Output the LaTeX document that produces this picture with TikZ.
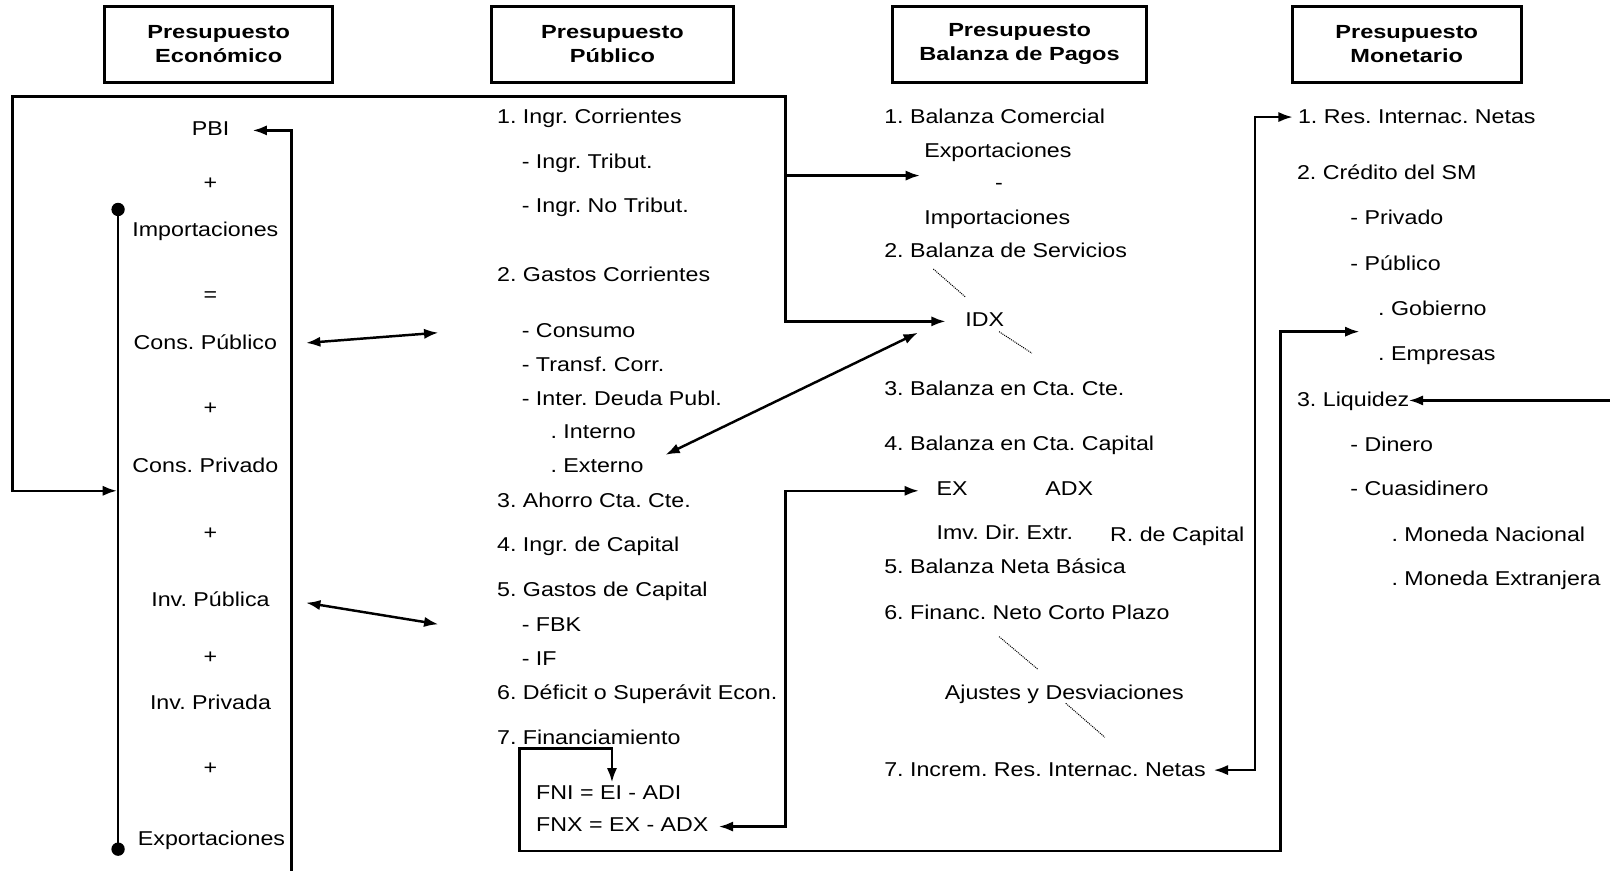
\documentclass[tikz,border=0pt]{standalone}
\usepackage{fontspec}
\setmainfont{Liberation Sans}[FakeStretch=1.16]
\newfontfamily\hbf{Liberation Sans}[FakeStretch=1.24]
\usetikzlibrary{arrows.meta}
\frenchspacing
\begin{document}
\frenchspacing
\begin{tikzpicture}[x=1pt,y=-1pt,
  tx/.style={anchor=base west,inner sep=0pt,font=\fontsize{19.5}{23}\selectfont\frenchspacing},
  tc/.style={anchor=base,inner sep=0pt,font=\fontsize{19.5}{23}\selectfont\frenchspacing},
  hdr/.style={draw,line width=2.8pt,inner sep=0pt,minimum height=74pt,align=center,
    font=\hbf\bfseries\fontsize{18.5}{23}\selectfont},
  conn/.style={line width=2.4pt,>={Latex[length=14pt,width=10pt]}},
  dots/.style={line width=1pt,dash pattern=on 1pt off 1pt}]
\useasboundingbox (0,0) rectangle (1568,848);

% headers
\node[hdr,minimum width=222pt] (h1) at (213,43) {Presupuesto\\Económico};
\node[hdr,minimum width=236pt] (h2) at (596.5,43) {Presupuesto\\Público};
\node[hdr,minimum width=248pt] (h3) at (993,43) {Presupuesto\\Balanza de Pagos};
\node[hdr,minimum width=223pt] (h4) at (1370,43) {Presupuesto\\Monetario};

% column 1
\node[tc] (pbi) at (205,132) {PBI};
\node[tc] (pl1) at (205,185) {+};
\node[tc] (imp) at (200,230) {Importaciones};
\node[tc] (eq) at (205,294) {=};
\node[tc] (cpu) at (200,340) {Cons. Público};
\node[tc] (pl2) at (205,404) {+};
\node[tc] (cpr) at (200,460) {Cons. Privado};
\node[tc] (pl3) at (205,525) {+};
\node[tc] (ipu) at (205,591) {Inv. Pública};
\node[tc] (pl4) at (205,646) {+};
\node[tc] (ipr) at (205,691) {Inv. Privada};
\node[tc] (pl5) at (205,754) {+};
\node[tc] (expo) at (206,823) {Exportaciones};

% column 2
\node[tx] (a1) at (484,120) {1. Ingr. Corrientes};
\node[tx] (a2) at (508,164) {- Ingr. Tribut.};
\node[tx] (a3) at (508,207) {- Ingr. No Tribut.};
\node[tx] (a4) at (484,274) {2. Gastos Corrientes};
\node[tx] (a5) at (508,329) {- Consumo};
\node[tx] (a6) at (508,362) {- Transf. Corr.};
\node[tx] (a7) at (508,395) {- Inter. Deuda Publ.};
\node[tx] (a8) at (536,427) {. Interno};
\node[tx] (a9) at (536,460) {. Externo};
\node[tx] (a10) at (484,494) {3. Ahorro Cta. Cte.};
\node[tx] (a11) at (484,537) {4. Ingr. de Capital};
\node[tx] (a12) at (484,581) {5. Gastos de Capital};
\node[tx] (a13) at (508,615) {- FBK};
\node[tx] (a14) at (508,648) {- IF};
\node[tx] (a15) at (484,681) {6. Déficit o Superávit Econ.};
\node[tx] (a16) at (484,725) {7. Financiamiento};
\node[tx] (fni) at (522,779) {FNI = EI - ADI};
\node[tx] (fnx) at (522,810) {FNX = EX - ADX};

% column 3
\node[tx] (b1) at (861,120) {1. Balanza Comercial};
\node[tx] (b2) at (900,153) {Exportaciones};
\node[tc] (b3) at (973,185) {-};
\node[tx] (b4) at (900,219) {Importaciones};
\node[tx] (b5) at (861,251) {2. Balanza de Servicios};
\node[tx] (idx) at (940,318) {IDX};
\node[tx] (b6) at (861,385) {3. Balanza en Cta. Cte.};
\node[tx] (b7) at (861,439) {4. Balanza en Cta. Capital};
\node[tx] (ex) at (912,483) {EX};
\node[tx] (adx) at (1018,483) {ADX};
\node[tx] (imv) at (912,525) {Imv. Dir. Extr.};
\node[tx] (rcap) at (1081,527) {R. de Capital};
\node[tx] (b8) at (861,559) {5. Balanza Neta Básica};
\node[tx] (b9) at (861,603) {6. Financ. Neto Corto Plazo};
\node[tx] (ajd) at (920,681) {Ajustes y Desviaciones};
\node[tx] (b10) at (861,756) {7. Increm. Res. Internac. Netas};

% column 4
\node[tx] (c1) at (1264,120) {1. Res. Internac. Netas};
\node[tx] (c2) at (1263,175) {2. Crédito del SM};
\node[tx] (c3) at (1315,219) {- Privado};
\node[tx] (c4) at (1315,263) {- Público};
\node[tx] (c5) at (1342,307) {. Gobierno};
\node[tx] (c6) at (1342,351) {. Empresas};
\node[tx] (liq) at (1263,396) {3. Liquidez};
\node[tx] (c8) at (1315,440) {- Dinero};
\node[tx] (c9) at (1315,483) {- Cuasidinero};
\node[tx] (c10) at (1355,527) {. Moneda Nacional};
\node[tx] (c11) at (1355,570) {. Moneda Extranjera};

% coordinates
\coordinate (d1) at (115,204);
\coordinate (d2) at (115,827);
\coordinate (r1b) at (284,848);
\coordinate (r1t) at (284,127);
\coordinate (pbiIn) at (246,127);
\coordinate (cIn) at (114,478);
\coordinate (fA) at (12,478);
\coordinate (fB) at (12,94);
\coordinate (fC) at (765,94);
\coordinate (fD) at (765,313);
\coordinate (fE) at (765,171);
\coordinate (idxIn) at (921,313);
\coordinate (bcIn) at (896,171);
\coordinate (fniIn) at (596,762);
\coordinate (fn1) at (596,729);
\coordinate (fn2) at (506,729);
\coordinate (fn3) at (506,829);
\coordinate (fn4) at (1247,829);
\coordinate (fn5) at (1247,323);
\coordinate (crIn) at (1324,323);
\coordinate (fnxIn) at (700,805);
\coordinate (g1) at (765,805);
\coordinate (g2) at (765,478);
\coordinate (exIn) at (895,478);
\coordinate (rinIn) at (1182,750);
\coordinate (k1) at (1222,750);
\coordinate (k2) at (1222,114);
\coordinate (rinOut) at (1259,114);
\coordinate (lqR) at (1568,390);
\coordinate (lqIn) at (1372,390);

% connectors
\draw[conn] (d1) -- (d2);
\fill (d1) circle[radius=6.5pt];
\fill (d2) circle[radius=6.5pt];
\draw[conn,->] (r1b) -- (r1t) -- (pbiIn);
\draw[conn,<->] (cIn) -- (fA) -- (fB) -- (fC) -- (fD) -- (idxIn);
\draw[conn,->] (fE) -- (bcIn);
\draw[conn,<->] (298,334) -- (427,324);
\draw[conn,<->] (298,587) -- (427,608);
\draw[conn,<->] (648,443) -- (894,324);
\draw[conn,<->] (fniIn) -- (fn1) -- (fn2) -- (fn3) -- (fn4) -- (fn5) -- (crIn);
\draw[conn,<->] (fnxIn) -- (g1) -- (g2) -- (exIn);
\draw[conn,<->] (rinIn) -- (k1) -- (k2) -- (rinOut);
\draw[conn,->] (lqR) -- (lqIn);

% dotted
\draw[dots] (909,262) -- (940,289);
\draw[dots] (973,323) -- (1005,344);
\draw[dots] (973,620) -- (1011,652);
\draw[dots] (1038,685) -- (1076,718);
\end{tikzpicture}
\end{document}
